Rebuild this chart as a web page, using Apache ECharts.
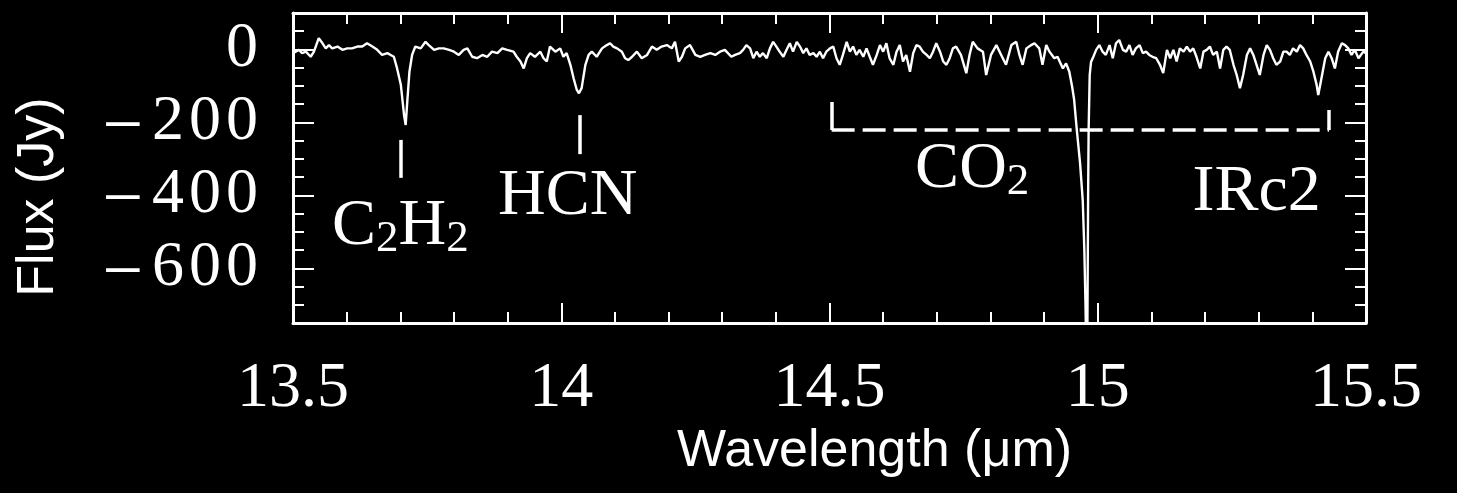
<!DOCTYPE html>
<html>
<head>
<meta charset="utf-8">
<title>IRc2 spectrum</title>
<script src="https://cdn.jsdelivr.net/npm/echarts@6/dist/echarts.min.js"></script>
<style>
  html, body { margin: 0; padding: 0; background: #000; }
  #main { width: 1457px; height: 493px; }
</style>
</head>
<body>
<div id="main"></div>
<script>
// spectrum: [wavelength (um), flux (Jy)]
var spectrum = [
  [13.500,-10],[13.505,-6],[13.511,-1],[13.517,-10],[13.524,-6],[13.533,-20],[13.539,-6],[13.548,31],
  [13.555,17],[13.561,3],[13.567,12],[13.573,3],[13.583,8],[13.592,-1],[13.601,3],[13.610,3],
  [13.620,8],[13.629,8],[13.638,17],[13.648,8],[13.657,-1],[13.666,-15],[13.676,-10],[13.682,-15],
  [13.688,-20],[13.694,-52],[13.701,-97],[13.707,-180],[13.710,-207],[13.713,-143],[13.717,-61],[13.722,-15],
  [13.728,8],[13.738,3],[13.747,21],[13.753,12],[13.763,-1],[13.772,3],[13.781,3],[13.791,-1],
  [13.800,-6],[13.809,-15],[13.818,-1],[13.825,3],[13.834,-20],[13.843,-24],[13.853,-15],[13.862,-20],
  [13.871,-6],[13.881,-10],[13.890,3],[13.899,-1],
  [13.911,-6],[13.917,-20],[13.924,-33],[13.930,-52],[13.936,-24],[13.942,-10],[13.951,-20],[13.961,-6],
  [13.967,-24],[13.973,-33],[13.979,8],[13.989,-6],[13.998,3],[14.004,-20],[14.010,-10],[14.017,-42],
  [14.023,-79],[14.029,-111],[14.033,-120],[14.038,-106],[14.045,-42],[14.051,-15],[14.057,-6],[14.066,-20],
  [14.076,3],[14.085,12],[14.091,17],[14.097,8],[14.104,3],[14.113,-6],[14.119,-24],[14.125,-29],
  [14.132,-20],[14.141,-6],[14.150,-24],[14.160,-15],[14.169,8],[14.178,-1],[14.187,8],[14.197,12],
  [14.206,3],[14.212,21],[14.219,-33],[14.225,-20],[14.231,3],[14.240,12],[14.250,-15],[14.259,-20],
  [14.268,-15],[14.278,-10],[14.287,-15],[14.296,-6],[14.305,-1],
  [14.317,-20],[14.324,-15],[14.333,-10],[14.339,-1],[14.345,12],[14.352,3],[14.358,-24],[14.364,-6],
  [14.370,-20],[14.376,-10],[14.383,-24],[14.389,3],[14.395,21],[14.401,8],[14.407,-6],[14.414,-20],
  [14.420,-1],[14.426,17],[14.432,-6],[14.439,21],[14.445,8],[14.451,-10],[14.457,3],[14.463,-15],
  [14.470,-10],[14.476,-20],[14.482,-6],[14.488,-24],[14.494,-6],[14.501,3],[14.507,8],[14.513,-24],
  [14.519,-42],[14.525,-15],[14.532,21],[14.538,-6],[14.544,8],[14.550,-15],[14.556,-1],[14.563,-20],
  [14.569,3],[14.575,-20],[14.581,-42],[14.588,-15],[14.594,12],[14.600,-6],[14.606,17],[14.612,-24],
  [14.619,-42],[14.625,-6],[14.631,12],[14.637,-33],[14.643,-15],[14.650,-61],[14.656,-10],[14.662,12],
  [14.668,8],[14.674,-6],[14.681,-15],[14.687,-24],[14.693,-6],[14.699,17],[14.706,-6],[14.712,-33],
  [14.718,-42],[14.724,-24],[14.730,3],[14.736,8],[14.745,-15],[14.755,-65],[14.761,-15],[14.767,21],
  [14.776,3],[14.786,-6],[14.792,-70],[14.801,-15],[14.811,12],[14.820,-15],[14.829,-42],[14.839,12],
  [14.848,21],[14.854,-15],[14.860,-42],[14.867,3],[14.876,12],[14.882,17],[14.891,3],[14.897,-42],
  [14.904,12],[14.910,-6],[14.919,-24],[14.925,-20],[14.935,-52],[14.941,-38],[14.947,-61],
  [14.952,-100],[14.956,-138],[14.961,-221],[14.967,-311],[14.972,-413],[14.975,-550],[14.977,-687],
  [14.9790,-860],[14.9807,-760],[14.9820,-413],[14.9830,-221],[14.9850,-70],[14.9875,-34],
  [14.991,-23],[14.997,-1],[15.003,12],[15.009,-6],[15.015,-15],[15.022,12],[15.028,-24],[15.034,17],
  [15.040,26],[15.047,-1],[15.053,-6],[15.059,12],[15.065,-15],[15.071,3],[15.078,12],[15.084,-10],
  [15.090,-6],[15.096,-15],[15.102,-20],[15.109,-24],[15.116,-42],[15.122,-65],[15.129,-1],
  [15.135,-24],[15.141,-1],[15.147,-33],[15.153,3],[15.160,-6],[15.166,8],[15.172,-6],[15.178,3],
  [15.184,-20],[15.191,-52],[15.197,-6],[15.203,-1],[15.209,8],[15.215,-15],[15.222,-6],[15.228,-52],
  [15.234,-1],[15.240,8],[15.246,-1],[15.253,-42],[15.259,-70],[15.265,-106],[15.271,-70],[15.278,-15],
  [15.284,3],[15.290,-15],[15.296,-42],[15.302,-70],[15.309,-15],[15.315,12],[15.321,-1],[15.327,-24],
  [15.333,-42],[15.340,-33],[15.346,-6],[15.352,-6],[15.358,-15],[15.364,3],[15.371,-6],[15.377,12],
  [15.383,3],[15.389,-15],[15.396,-33],[15.402,-61],[15.408,-97],[15.411,-125],[15.417,-79],[15.424,-24],
  [15.430,-6],[15.436,-24],[15.442,-52],[15.448,-6],[15.455,17],[15.461,12],[15.467,3],[15.473,-15],
  [15.479,-1],[15.486,-24],[15.495,-6],[15.500,-10]
];

var xTicks = [13.5, 15.5, 0.5];            // min, max, major step
var yRange = [-750, 100, 50];              // min, max, minor step
var yLabelled = [-600, -400, -200, 0];

// feature labels: [text (rich), wavelength, flux]
var featureLabels = [
  ['{m|C}{s|2}{m|H}{s|2}', 13.700, -485],
  ['{m|HCN}', 14.012, -403],
  ['{m|CO}{s|2}', 14.766, -330],
  ['{m|IRc2}', 15.296, -392]
];
// marker segments: [[x1, y1], [x2, y2], dashed]
var markers = [
  [[13.700, -248], [13.700, -352], false],
  [[14.034, -180], [14.034, -287], false],
  [[14.504, -144], [14.504, -221], false],
  [[14.504, -221], [15.431, -221], true],
  [[15.431, -166], [15.431, -221], false]
];

var white = '#fff';
var serif = 'Liberation Serif';
var sans = 'Liberation Sans';

// y tick label: long minus + slightly spaced digits, like the original plot
function yLabel(v) {
  if (yLabelled.indexOf(v) < 0) return '';
  var s = String(Math.abs(v)).split('').map(function (c) { return '{d|' + c + '}'; }).join('');
  return (v < 0 ? '{n|\u2212}' : '') + s;
}

function xAxisDef(pos, labels) {
  return {
    type: 'value', position: pos,
    min: xTicks[0], max: xTicks[1], interval: xTicks[2],
    axisLine: { onZero: false, lineStyle: { color: white, width: 3 } },
    axisTick: { inside: true, length: 20, lineStyle: { color: white, width: 2 } },
    minorTick: { show: true, splitNumber: 5, length: 11, lineStyle: { color: white, width: 2 } },
    splitLine: { show: false },
    axisLabel: { show: labels, color: white, fontFamily: serif, fontSize: 64, margin: 34 }
  };
}

function yAxisDef(pos, labels) {
  return {
    type: 'value', position: pos,
    min: yRange[0], max: yRange[1], interval: yRange[2],
    axisLine: { onZero: false, lineStyle: { color: white, width: 3 } },
    axisTick: { inside: true, length: 11, lineStyle: { color: white, width: 2 } },
    splitLine: { show: false },
    axisLabel: {
      show: labels, color: white, margin: 33,
      formatter: yLabel,
      rich: {
        n: { fontFamily: serif, fontSize: 72, lineHeight: 80, color: white, padding: [14, 6, 0, 0] },
        d: { fontFamily: serif, fontSize: 64, lineHeight: 80, color: white, padding: [0, 2, 0, 3] }
      }
    }
  };
}

function yMajorDef(pos) {
  return {
    type: 'value', position: pos,
    min: yRange[0], max: yRange[1], interval: yRange[2],
    axisLine: { show: false },
    axisTick: { inside: true, length: 21, customValues: yLabelled, lineStyle: { color: white, width: 2 } },
    splitLine: { show: false },
    axisLabel: { show: false }
  };
}

var xBottom = xAxisDef('bottom', true);
xBottom.name = 'Wavelength (\u03bcm)';
xBottom.nameLocation = 'middle';
xBottom.nameGap = 97;
xBottom.nameTextStyle = { color: white, fontFamily: sans, fontSize: 52, padding: [0, 0, 0, 90] };

var yLeft = yAxisDef('left', true);
yLeft.name = 'Flux (Jy)';
yLeft.nameLocation = 'middle';
yLeft.nameRotate = 90;
yLeft.nameGap = 228;
yLeft.nameTextStyle = { color: white, fontFamily: sans, fontSize: 52, padding: [0, 58, 0, 0] };

var myChart = echarts.init(document.getElementById('main'));
var option = {
  backgroundColor: '#000',
  animation: false,
  grid: { left: 293, right: 91, top: 13, bottom: 170 },
  xAxis: [xBottom, xAxisDef('top', false)],
  yAxis: [yLeft, yAxisDef('right', false), yMajorDef('left'), yMajorDef('right')],
  series: [{
    name: 'IRc2',
    type: 'line',
    data: spectrum,
    showSymbol: false,
    clip: true,
    lineStyle: { color: white, width: 2.4 },
    markLine: {
      silent: true,
      symbol: 'none',
      label: { show: false },
      lineStyle: { color: white, width: 3, type: 'solid' },
      data: markers.map(function (m) {
        return [
          { coord: m[0], lineStyle: { color: white, width: 3.5, type: m[2] ? [23, 8] : 'solid' } },
          { coord: m[1] }
        ];
      })
    },
    markPoint: {
      silent: true,
      symbol: 'circle',
      symbolSize: 1,
      itemStyle: { color: 'rgba(0,0,0,0)' },
      label: {
        show: true,
        position: 'inside',
        color: white,
        rich: {
          m: { fontFamily: serif, fontSize: 66, lineHeight: 70, color: white },
          s: { fontFamily: serif, fontSize: 45, lineHeight: 26, verticalAlign: 'bottom', color: white }
        }
      },
      data: featureLabels.map(function (f) {
        return { coord: [f[1], f[2]], label: { formatter: f[0] } };
      })
    }
  }]
};
myChart.setOption(option);
</script>
</body>
</html>
